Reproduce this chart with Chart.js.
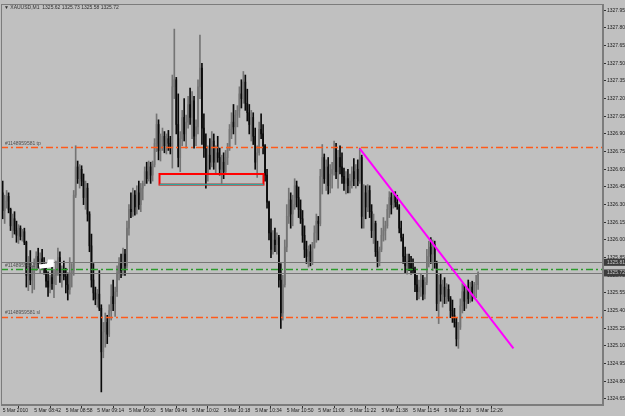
<!DOCTYPE html>
<html>
<head>
<meta charset="utf-8">
<script src="https://cdn.jsdelivr.net/npm/chart.js@4.4.1/dist/chart.umd.min.js"></script>
<style>
  html, body { margin: 0; padding: 0; background: #c0c0c0; overflow: hidden; }
  canvas { display: block; }
</style>
</head>
<body>
<canvas id="chart" width="625" height="416"></canvas>
<script>
// XAUUSD M1, 5 Mar 2010, bar 0 = 08:26
const timeLabels = ['5 Mar 2010', '5 Mar 08:42', '5 Mar 08:58', '5 Mar 09:14', '5 Mar 09:30', '5 Mar 09:46',
  '5 Mar 10:02', '5 Mar 10:18', '5 Mar 10:34', '5 Mar 10:50', '5 Mar 11:06', '5 Mar 11:22',
  '5 Mar 11:38', '5 Mar 11:54', '5 Mar 12:10', '5 Mar 12:26'];

const priceTicks = [1324.65, 1324.80, 1324.95, 1325.10, 1325.25, 1325.40, 1325.55, 1325.70, 1325.85,
  1326.00, 1326.15, 1326.30, 1326.45, 1326.60, 1326.75, 1326.90, 1327.05, 1327.20, 1327.35,
  1327.50, 1327.65, 1327.80, 1327.95];

const opens = [
  1326.40,1326.25,1326.33,1326.37,1326.26,1326.12,1326.18,1326.08,1326.04,1326.10,
  1326.03,1326.07,1325.98,1325.70,1325.80,1325.66,1325.72,1325.79,1325.86,1325.80,
  1325.84,1325.78,1325.76,1325.65,1325.60,1325.68,1325.63,1325.70,1325.74,1325.85,
  1325.70,1325.74,1325.69,1325.62,1325.58,1325.72,1325.74,1326.38,1326.62,1326.52,
  1326.60,1326.50,1326.36,1326.44,1326.22,1325.95,1325.66,1325.55,1325.50,1325.54,
  1325.42,1325.05,1325.22,1325.30,1325.20,1325.40,1325.52,1325.46,1325.56,1325.72,
  1325.80,1325.74,1325.88,1325.78,1326.10,1326.26,1326.24,1326.38,1326.28,1326.40,
  1326.30,1326.44,1326.48,1326.58,1326.52,1326.62,1326.55,1326.64,1326.82,1326.98,
  1326.76,1326.84,1326.88,1326.80,1326.86,1326.82,1326.78,1327.30,1327.36,1326.98,
  1326.70,1326.86,1327.04,1326.90,1327.00,1327.15,1327.04,1327.18,1326.88,1326.96,
  1327.30,1327.46,1326.95,1326.78,1326.56,1326.72,1326.66,1326.84,1326.66,1326.74,
  1326.70,1326.60,1326.66,1326.58,1326.70,1326.78,1326.94,1327.00,1326.96,1327.06,
  1327.10,1327.24,1327.20,1327.34,1327.16,1327.08,1326.98,1327.04,1326.88,1326.66,
  1326.74,1326.94,1326.90,1326.80,1326.55,1326.32,1326.06,1325.92,1326.00,1325.96,
  1326.02,1325.66,1325.38,1325.62,1325.94,1326.20,1326.34,1326.22,1326.30,1326.46,
  1326.36,1326.26,1326.18,1326.04,1325.92,1325.86,1325.90,1325.82,1325.94,1326.06,
  1326.16,1326.14,1326.54,1326.70,1326.52,1326.62,1326.46,1326.56,1326.60,1326.78,
  1326.58,1326.70,1326.62,1326.54,1326.48,1326.52,1326.46,1326.50,1326.58,1326.52,
  1326.60,1326.50,1326.70,1326.20,1326.40,1326.28,1326.42,1326.24,1326.08,1326.14,
  1325.90,1325.82,1325.92,1326.04,1326.08,1326.12,1326.26,1326.36,1326.30,1326.38,
  1326.32,1326.28,1326.10,1326.02,1325.86,1325.78,1325.82,1325.80,1325.76,1325.74,
  1325.62,1325.56,1325.60,1325.66,1325.54,1325.64,1325.86,1325.94,1325.88,1325.96,
  1325.80,1325.46,1325.62,1325.54,1325.60,1325.52,1325.58,1325.50,1325.40,1325.36,
  1325.30,1325.16,1325.26,1325.44,1325.56,1325.48,1325.58,1325.50,1325.60,1325.54,
  1325.62,1325.62];

const highs = [
  1326.50,1326.38,1326.42,1326.40,1326.27,1326.22,1326.24,1326.16,1326.13,1326.12,
  1326.09,1326.10,1325.99,1325.86,1325.91,1325.78,1325.84,1325.90,1325.93,1325.89,
  1325.92,1325.85,1325.80,1325.73,1325.70,1325.78,1325.75,1325.82,1325.93,1325.90,
  1325.78,1325.82,1325.76,1325.72,1325.85,1325.80,1326.42,1326.80,1326.67,1326.64,
  1326.63,1326.56,1326.50,1326.48,1326.24,1326.05,1325.80,1325.60,1325.58,1325.74,
  1325.45,1325.30,1325.38,1325.36,1325.45,1325.62,1325.66,1325.60,1325.78,1325.85,
  1325.88,1325.93,1325.92,1326.16,1326.30,1326.40,1326.44,1326.42,1326.46,1326.50,
  1326.48,1326.50,1326.62,1326.66,1326.67,1326.66,1326.67,1326.86,1327.07,1327.02,
  1326.90,1326.95,1326.92,1326.90,1326.93,1326.88,1327.40,1327.79,1327.38,1327.24,
  1326.92,1327.10,1327.20,1327.06,1327.22,1327.29,1327.26,1327.22,1327.02,1327.36,
  1327.74,1327.50,1327.07,1326.90,1326.80,1326.86,1326.92,1326.90,1326.80,1326.88,
  1326.78,1326.72,1326.74,1326.76,1326.82,1326.98,1327.08,1327.15,1327.10,1327.14,
  1327.30,1327.36,1327.43,1327.40,1327.28,1327.15,1327.10,1327.08,1326.95,1326.80,
  1327.00,1327.07,1326.98,1326.81,1326.60,1326.33,1326.18,1326.08,1326.10,1326.06,
  1326.04,1325.80,1325.70,1326.00,1326.30,1326.44,1326.40,1326.38,1326.52,1326.50,
  1326.45,1326.34,1326.25,1326.12,1325.99,1325.95,1325.96,1325.98,1326.12,1326.22,
  1326.20,1326.60,1326.81,1326.73,1326.68,1326.70,1326.64,1326.66,1326.84,1326.82,
  1326.76,1326.80,1326.74,1326.61,1326.58,1326.60,1326.56,1326.62,1326.69,1326.64,
  1326.68,1326.78,1326.72,1326.47,1326.46,1326.47,1326.46,1326.30,1326.22,1326.16,
  1325.99,1325.94,1326.10,1326.19,1326.16,1326.30,1326.41,1326.40,1326.40,1326.41,
  1326.38,1326.30,1326.16,1326.05,1325.94,1325.88,1325.88,1325.86,1325.84,1325.77,
  1325.70,1325.66,1325.71,1325.70,1325.68,1325.92,1325.99,1326.02,1326.00,1325.99,
  1325.82,1325.70,1325.71,1325.66,1325.68,1325.63,1325.62,1325.52,1325.49,1325.42,
  1325.34,1325.30,1325.50,1325.63,1325.62,1325.60,1325.66,1325.64,1325.65,1325.64,
  1325.70,1325.73];

const lows = [
  1326.18,1326.14,1326.27,1326.23,1326.08,1326.02,1326.05,1325.98,1325.97,1326.00,
  1325.99,1325.96,1325.60,1325.57,1325.62,1325.55,1325.58,1325.74,1325.76,1325.72,
  1325.75,1325.71,1325.60,1325.52,1325.55,1325.58,1325.51,1325.62,1325.70,1325.64,
  1325.60,1325.66,1325.55,1325.49,1325.54,1325.60,1325.70,1326.36,1326.48,1326.44,
  1326.46,1326.30,1326.26,1326.16,1325.90,1325.60,1325.49,1325.45,1325.43,1325.40,
  1324.71,1325.00,1325.09,1325.12,1325.18,1325.32,1325.40,1325.35,1325.52,1325.66,
  1325.68,1325.70,1325.70,1325.76,1326.04,1326.19,1326.20,1326.21,1326.22,1326.26,
  1326.24,1326.34,1326.46,1326.48,1326.50,1326.48,1326.50,1326.62,1326.75,1326.68,
  1326.67,1326.76,1326.74,1326.73,1326.76,1326.73,1326.61,1327.20,1326.90,1326.62,
  1326.58,1326.80,1326.84,1326.78,1326.95,1326.98,1326.86,1326.78,1326.80,1326.90,
  1327.20,1326.81,1326.70,1326.44,1326.50,1326.60,1326.62,1326.60,1326.56,1326.66,
  1326.55,1326.48,1326.52,1326.56,1326.64,1326.76,1326.86,1326.90,1326.81,1326.96,
  1327.04,1327.12,1327.16,1327.10,1327.01,1326.90,1326.84,1326.81,1326.60,1326.53,
  1326.72,1326.86,1326.73,1326.50,1326.27,1326.00,1325.85,1325.88,1325.90,1325.88,
  1325.60,1325.25,1325.32,1325.60,1325.90,1326.14,1326.10,1326.12,1326.26,1326.28,
  1326.19,1326.14,1325.98,1325.85,1325.80,1325.77,1325.78,1325.79,1325.93,1325.98,
  1326.00,1326.12,1326.39,1326.48,1326.42,1326.39,1326.40,1326.44,1326.55,1326.52,
  1326.44,1326.56,1326.48,1326.42,1326.39,1326.40,1326.40,1326.44,1326.46,1326.44,
  1326.46,1326.48,1326.10,1326.10,1326.18,1326.24,1326.19,1326.02,1325.97,1325.86,
  1325.77,1325.78,1325.90,1325.99,1326.00,1326.10,1326.19,1326.22,1326.27,1326.28,
  1326.26,1326.06,1325.99,1325.80,1325.72,1325.71,1325.74,1325.71,1325.72,1325.56,
  1325.49,1325.50,1325.52,1325.49,1325.50,1325.62,1325.77,1325.80,1325.74,1325.76,
  1325.40,1325.29,1325.48,1325.43,1325.46,1325.46,1325.48,1325.34,1325.30,1325.26,
  1325.10,1325.08,1325.24,1325.38,1325.40,1325.42,1325.46,1325.47,1325.48,1325.50,
  1325.51,1325.58];

const closes = [
  1326.25,1326.33,1326.37,1326.26,1326.12,1326.18,1326.08,1326.04,1326.10,1326.03,
  1326.07,1325.98,1325.70,1325.80,1325.66,1325.72,1325.79,1325.86,1325.80,1325.84,
  1325.78,1325.76,1325.65,1325.60,1325.68,1325.63,1325.70,1325.74,1325.85,1325.70,
  1325.74,1325.69,1325.62,1325.58,1325.72,1325.74,1326.38,1326.62,1326.52,1326.60,
  1326.50,1326.36,1326.44,1326.22,1325.95,1325.66,1325.55,1325.50,1325.54,1325.42,
  1325.05,1325.22,1325.30,1325.20,1325.40,1325.52,1325.46,1325.56,1325.72,1325.80,
  1325.74,1325.88,1325.78,1326.10,1326.26,1326.24,1326.38,1326.28,1326.40,1326.30,
  1326.44,1326.48,1326.58,1326.52,1326.62,1326.55,1326.64,1326.82,1326.98,1326.76,
  1326.84,1326.88,1326.80,1326.86,1326.82,1326.78,1327.30,1327.36,1326.98,1326.70,
  1326.86,1327.04,1326.90,1327.00,1327.15,1327.04,1327.18,1326.88,1326.96,1327.30,
  1327.46,1326.95,1326.78,1326.56,1326.72,1326.66,1326.84,1326.66,1326.74,1326.70,
  1326.60,1326.66,1326.58,1326.70,1326.78,1326.94,1327.00,1326.96,1327.06,1327.10,
  1327.24,1327.20,1327.34,1327.16,1327.08,1326.98,1327.04,1326.88,1326.66,1326.74,
  1326.94,1326.90,1326.80,1326.55,1326.32,1326.06,1325.92,1326.00,1325.96,1326.02,
  1325.66,1325.38,1325.62,1325.94,1326.20,1326.34,1326.22,1326.30,1326.46,1326.36,
  1326.26,1326.18,1326.04,1325.92,1325.86,1325.90,1325.82,1325.94,1326.06,1326.16,
  1326.14,1326.54,1326.70,1326.52,1326.62,1326.46,1326.56,1326.60,1326.78,1326.58,
  1326.70,1326.62,1326.54,1326.48,1326.52,1326.46,1326.50,1326.58,1326.52,1326.60,
  1326.50,1326.70,1326.20,1326.40,1326.28,1326.42,1326.24,1326.08,1326.14,1325.90,
  1325.82,1325.92,1326.04,1326.08,1326.12,1326.26,1326.36,1326.30,1326.38,1326.32,
  1326.28,1326.10,1326.02,1325.86,1325.78,1325.82,1325.80,1325.76,1325.74,1325.62,
  1325.56,1325.60,1325.66,1325.54,1325.64,1325.86,1325.94,1325.88,1325.96,1325.80,
  1325.46,1325.62,1325.54,1325.60,1325.52,1325.58,1325.50,1325.40,1325.36,1325.30,
  1325.16,1325.26,1325.44,1325.56,1325.48,1325.58,1325.50,1325.60,1325.54,1325.62,
  1325.62,1325.72];

// objects on the chart (price levels)
const tpLevel = 1326.79;
const slLevel = 1325.35;
const orderLevel = 1325.75;
const askLevel = 1325.81;
const bidLevel = 1325.72;
const orderName = '#1148959581';
// trend line: [bar, price]
const trendStart = [181, 1326.776];
const trendEnd = [258.9, 1325.08];
// rectangle: bar from/to, price top/bottom
const boxBars = [79.5, 132.2];
const boxPrices = [1326.56, 1326.47];

const upColor = '#747474';
const downColor = '#0a0a0a';
const barColors = closes.map((c, i) => c >= opens[i] ? upColor : downColor);

const wicks = highs.map((h, i) => ({ x: i, y: [lows[i], h] }));
const bodies = opens.map((o, i) => ({ x: i, y: [Math.min(o, closes[i]), Math.max(o, closes[i])] }));

const smallFont = { family: 'Liberation Sans', size: 5 };

function dashLine(ctx, area, py, color) {
  ctx.strokeStyle = color;
  ctx.lineWidth = 1.4;
  ctx.setLineDash([7, 3, 2, 3]);
  ctx.beginPath();
  ctx.moveTo(area.left, Math.round(py) + 0.5);
  ctx.lineTo(area.right, Math.round(py) + 0.5);
  ctx.stroke();
  ctx.setLineDash([]);
}

const overlay = {
  id: 'overlay',
  afterDatasetsDraw(chart) {
    const { ctx, chartArea: a, scales: { x, y } } = chart;
    ctx.save();
    ctx.beginPath();
    ctx.rect(a.left, a.top, a.right - a.left, a.bottom - a.top);
    ctx.clip();

    // bid / ask lines
    ctx.strokeStyle = '#777777';
    ctx.lineWidth = 1;
    [askLevel, bidLevel].forEach(p => {
      const py = Math.round(y.getPixelForValue(p)) + 0.5;
      ctx.beginPath(); ctx.moveTo(a.left, py); ctx.lineTo(a.right, py); ctx.stroke();
    });

    // order lines
    dashLine(ctx, a, y.getPixelForValue(tpLevel), '#ff5a1a');
    dashLine(ctx, a, y.getPixelForValue(slLevel), '#ff5a1a');
    dashLine(ctx, a, y.getPixelForValue(orderLevel), '#2c9a2c');

    ctx.fillStyle = '#505050';
    ctx.font = '5px "Liberation Sans"';
    ctx.textBaseline = 'bottom';
    ctx.fillText(orderName + ' tp', a.left + 4, y.getPixelForValue(tpLevel) - 1);
    ctx.fillText(orderName + ' sl', a.left + 4, y.getPixelForValue(slLevel) - 1);
    ctx.fillText(orderName, a.left + 4, y.getPixelForValue(orderLevel) - 1);

    // rectangle
    const bx0 = x.getPixelForValue(boxBars[0]), bx1 = x.getPixelForValue(boxBars[1]);
    const by0 = y.getPixelForValue(boxPrices[0]), by1 = y.getPixelForValue(boxPrices[1]);
    ctx.strokeStyle = '#ff0000';
    ctx.lineWidth = 2;
    ctx.strokeRect(bx0, by0, bx1 - bx0, by1 - by0);
    ctx.strokeStyle = '#2aa89e';
    ctx.lineWidth = 1.5;
    ctx.beginPath();
    ctx.moveTo(bx0, by1);
    ctx.lineTo(bx1, by1);
    ctx.stroke();

    // trend line
    ctx.strokeStyle = '#ff00ff';
    ctx.lineWidth = 2;
    ctx.beginPath();
    ctx.moveTo(x.getPixelForValue(trendStart[0]), y.getPixelForValue(trendStart[1]));
    ctx.lineTo(x.getPixelForValue(trendEnd[0]), y.getPixelForValue(trendEnd[1]));
    ctx.stroke();

    // white cursor blob near the order label
    ctx.fillStyle = '#ffffff';
    const cx0 = x.getPixelForValue(18.3), cx1 = x.getPixelForValue(22.5), cx2 = x.getPixelForValue(25.9);
    const cy0 = y.getPixelForValue(1325.835), cy1 = y.getPixelForValue(1325.80), cy2 = y.getPixelForValue(1325.765);
    ctx.beginPath();
    ctx.moveTo(cx0, cy1 + 1);
    ctx.lineTo(cx1, cy1);
    ctx.lineTo(cx1 + 1, cy0);
    ctx.lineTo(cx2, cy0);
    ctx.lineTo(cx2, cy2 - 1);
    ctx.lineTo(cx1 + 1, cy2);
    ctx.lineTo(cx0 + 1, cy2 + 1);
    ctx.closePath();
    ctx.fill();
    ctx.restore();
  },
  afterDraw(chart) {
    const { ctx, chartArea: a, scales: { y } } = chart;
    ctx.save();
    // frame
    ctx.strokeStyle = '#7c7c7c';
    ctx.lineWidth = 1;
    ctx.strokeRect(a.left + 0.5, a.top + 0.5, a.right - a.left - 1, a.bottom - a.top - 1);

    // price boxes on the scale
    ctx.font = '5px "Liberation Sans"';
    ctx.textBaseline = 'middle';
    [askLevel, bidLevel].forEach(p => {
      const py = y.getPixelForValue(p);
      ctx.fillStyle = '#3c3c3c';
      ctx.fillRect(a.right + 1, py - 3.5, 21, 7);
      ctx.fillStyle = '#c8c8c8';
      ctx.fillText(p.toFixed(2), a.right + 4, py);
    });

    // title
    ctx.fillStyle = '#303030';
    ctx.textBaseline = 'middle';
    ctx.fillText('\u25BC XAUUSD,M1  1325.62 1325.73 1325.58 1325.72', a.left + 3, a.top + 4);
    ctx.restore();
  }
};

new Chart(document.getElementById('chart'), {
  type: 'bar',
  data: {
    datasets: [
      {
        data: wicks,
        backgroundColor: barColors,
        barThickness: 1,
        grouped: false,
        borderWidth: 0
      },
      {
        data: bodies,
        backgroundColor: barColors,
        barThickness: 1,
        grouped: false,
        borderWidth: 0
      }
    ]
  },
  options: {
    responsive: false,
    animation: false,
    layout: { padding: { left: 1, top: 2, right: 0, bottom: 0 } },
    plugins: { legend: { display: false }, tooltip: { enabled: false } },
    scales: {
      x: {
        type: 'linear',
        min: -0.85,
        max: 304.3,
        offset: false,
        afterBuildTicks: s => { s.ticks = timeLabels.map((_, k) => ({ value: k * 16 })); },
        afterFit: s => { s.height = 11; },
        grid: { drawOnChartArea: false, drawTicks: true, tickLength: 3, color: '#303030' },
        border: { display: true, color: '#7c7c7c' },
        ticks: {
          autoSkip: false, maxRotation: 0, minRotation: 0, align: 'start', padding: 0,
          font: smallFont, color: '#202020',
          callback: v => timeLabels[Math.round(v / 16)]
        }
      },
      y: {
        position: 'right',
        min: 1324.599,
        max: 1328.003,
        afterBuildTicks: s => { s.ticks = priceTicks.map(v => ({ value: v })); },
        afterFit: s => { s.width = 22; },
        grid: { drawOnChartArea: false, drawTicks: true, tickLength: 3, color: '#303030' },
        border: { display: true, color: '#7c7c7c' },
        ticks: {
          autoSkip: false, padding: 1, font: smallFont, color: '#202020',
          callback: v => v.toFixed(2)
        }
      }
    }
  },
  plugins: [overlay]
});
</script>
</body>
</html>
